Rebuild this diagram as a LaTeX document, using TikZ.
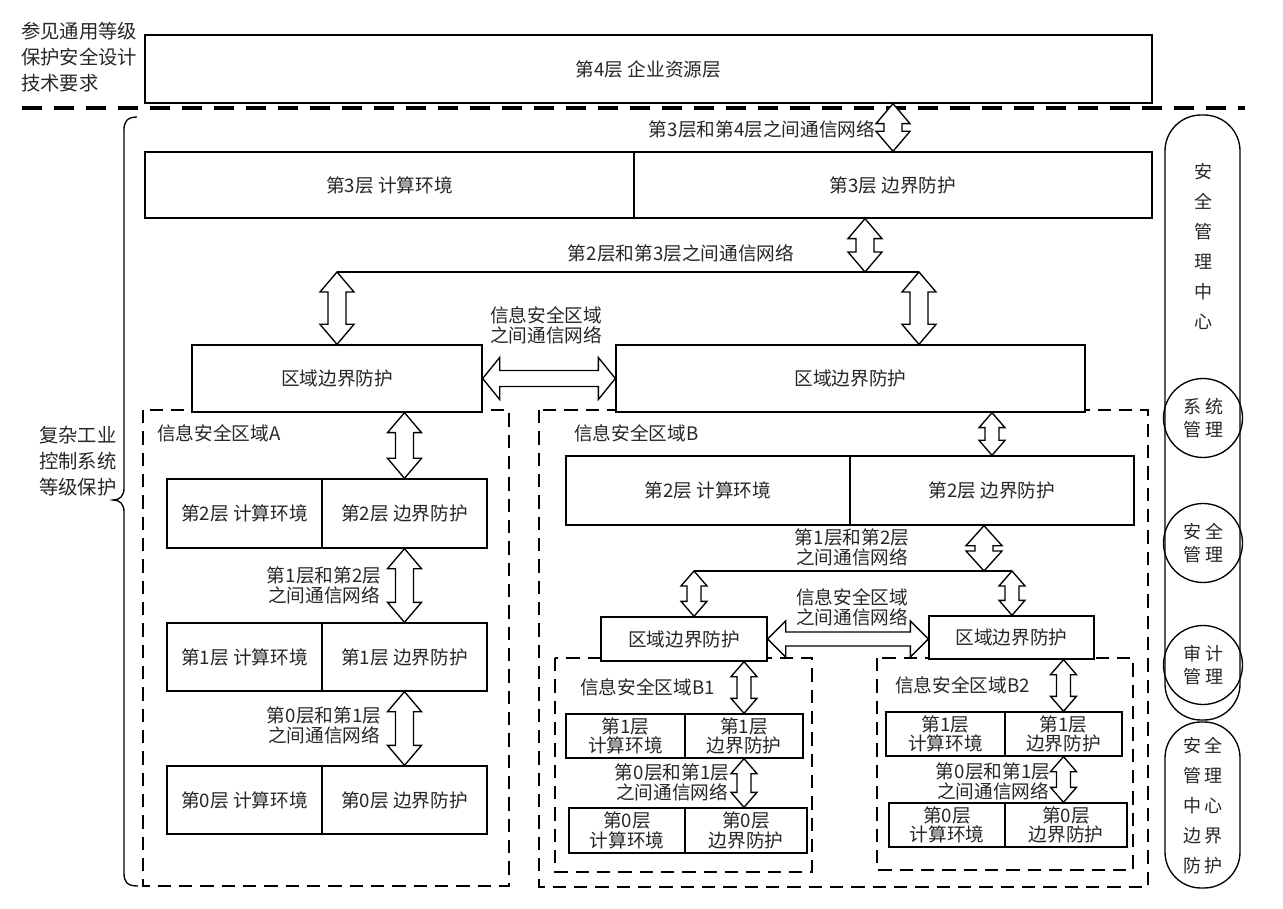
\documentclass[tikz,border=0pt]{standalone}
\usepackage{fontspec}
\setmainfont{Noto Sans CJK SC}
\usetikzlibrary{calc}
% cell node given by its pixel corners
\newcommand\mkcell[7][box]{\node[#1, minimum width={(#5-#3)*0.75pt}, minimum height={(#6-#4)*0.75pt}, align=center] (#2) at ({(#3+#5)/2},{(#4+#6)/2}) {#7};}
% vertical hollow double arrow: half head width, half shaft width, head length (px), top point, bottom point
\newcommand\vdar[5]{\draw[darr] let \p1=#4, \p2=#5 in
 (\x1,\y1) -- ({\x1+#1*0.75pt},{\y1-#3*0.75pt}) -- ({\x1+#2*0.75pt},{\y1-#3*0.75pt}) -- ({\x1+#2*0.75pt},{\y2+#3*0.75pt}) -- ({\x1+#1*0.75pt},{\y2+#3*0.75pt}) -- (\x1,\y2) -- ({\x1-#1*0.75pt},{\y2+#3*0.75pt}) -- ({\x1-#2*0.75pt},{\y2+#3*0.75pt}) -- ({\x1-#2*0.75pt},{\y1-#3*0.75pt}) -- ({\x1-#1*0.75pt},{\y1-#3*0.75pt}) -- cycle;}
% horizontal hollow double arrow: left point, right point
\newcommand\hdar[5]{\draw[darr] let \p1=#4, \p2=#5 in
 (\x1,\y1) -- ({\x1+#3*0.75pt},{\y1+#1*0.75pt}) -- ({\x1+#3*0.75pt},{\y1+#2*0.75pt}) -- ({\x2-#3*0.75pt},{\y1+#2*0.75pt}) -- ({\x2-#3*0.75pt},{\y1+#1*0.75pt}) -- (\x2,\y1) -- ({\x2-#3*0.75pt},{\y1-#1*0.75pt}) -- ({\x2-#3*0.75pt},{\y1-#2*0.75pt}) -- ({\x1+#3*0.75pt},{\y1-#2*0.75pt}) -- ({\x1+#3*0.75pt},{\y1-#1*0.75pt}) -- cycle;}
\begin{document}
\begin{tikzpicture}[x=0.75pt,y=-0.75pt,
  every node/.style={font=\fontsize{14}{15}\selectfont, inner sep=0pt, text=black!85},
  box/.style={draw, line width=1pt, fill=white},
  darr/.style={draw, line width=1pt, fill=white, line join=miter},
  zone/.style={draw, line width=2.1pt, dash pattern=on 10pt off 6pt},
  sepline/.style={draw, line width=3pt, dash pattern=on 15pt off 9pt},
  capsule/.style={draw, line width=1pt, rounded corners=27pt},
  disc/.style={draw, circle, line width=1pt, minimum size={79*0.75pt}, align=center, font=\fontsize{13.5}{17.5}\selectfont},
  lbl/.style={align=center},
  small/.style={box, font=\fontsize{14}{14.5}\selectfont},
]
\useasboundingbox (0,0) rectangle (1283,909);

% ---- top area
\node[align=left, anchor=west, font=\fontsize{14.5}{19.5}\selectfont] (ref) at (21,57) {参见通用等级\\保护安全设计\\技术要求};
\mkcell{l4}{145}{35}{1152}{103}{第4层~企业资源层}
\draw[sepline] (22,108) -- (1245,108);

% ---- brace
\draw[line width=1pt] (137,117) .. controls (127,117) and (124,122) .. (124,130) -- (124,488) .. controls (124,496) and (120,500) .. (113,500) .. controls (120,500) and (124,504) .. (124,512) -- (124,873) .. controls (124,882) and (127,886) .. (138,886);
\node[lbl, font=\fontsize{14.5}{19.5}\selectfont] (cx) at (78,461) {复杂工业\\控制系统\\等级保护};

% ---- layer 3
\mkcell{l3c}{145}{152}{634}{218}{第3层~计算环境}
\mkcell{l3b}{634}{152}{1152}{218}{第3层~边界防护}
\node (t34) at (762,129) {第3层和第4层之间通信网络};
\vdar{17}{9}{20}{(l4.south -| l3b.north)}{(l3b.north)}

\node (t23) at (681,253) {第2层和第3层之间通信网络};
\coordinate (busC) at (865,272);
\coordinate (busL) at (337,272);
\coordinate (busR) at (919,272);
\draw[line width=1pt] (busL) -- (busR);
\vdar{17}{9}{20}{(l3b.south -| busC)}{(busC)}

% ---- zones
\draw[zone] (143,410) rectangle (509,886);
\draw[zone] (539,410) rectangle (1148,887);
\node[anchor=west] (zA) at (157,433) {信息安全区域A};
\node[anchor=west] (zB) at (574,433) {信息安全区域B};

% ---- region boundary boxes
\mkcell{rA}{192}{345}{482}{412}{区域边界防护}
\mkcell{rB}{616}{345}{1085}{412}{区域边界防护}
\vdar{17}{9}{20}{(busL)}{(busL |- rA.north)}
\vdar{17}{9}{20}{(busR)}{(busR |- rB.north)}
\node[lbl] (tAB) at (546,325) {信息安全区域\\之间通信网络};
\hdar{21}{8}{17}{(rA.east)}{(rB.west)}

% ---- zone A
\mkcell{a2c}{167}{479}{322}{548}{第2层~计算环境}
\mkcell{a2b}{322}{479}{487}{548}{第2层~边界防护}
\mkcell{a1c}{167}{623}{322}{691}{第1层~计算环境}
\mkcell{a1b}{322}{623}{487}{691}{第1层~边界防护}
\mkcell{a0c}{167}{766}{322}{834}{第0层~计算环境}
\mkcell{a0b}{322}{766}{487}{834}{第0层~边界防护}
\vdar{17}{9}{20}{(rA.south -| a2b.north)}{(a2b.north)}
\vdar{17}{9}{20}{(a2b.south)}{(a1b.north)}
\vdar{17}{9}{20}{(a1b.south)}{(a0b.north)}
\node[lbl] (tA12) at (324,585) {第1层和第2层\\之间通信网络};
\node[lbl] (tA01) at (324,725) {第0层和第1层\\之间通信网络};

% ---- zone B
\mkcell{b2c}{566}{456}{850}{525}{第2层~计算环境}
\mkcell{b2b}{850}{456}{1134}{525}{第2层~边界防护}
\vdar{13}{7}{15}{(rB.south -| b2b.north)}{(b2b.north)}
\node[lbl] (tB12) at (852,547) {第1层和第2层\\之间通信网络};
\coordinate (bbusC) at (984,571);
\coordinate (bbusL) at (694,571);
\coordinate (bbusR) at (1012,571);
\draw[line width=1pt] (bbusL) -- (bbusR);
\vdar{18}{9}{20}{(b2b.south -| bbusC)}{(bbusC)}

\draw[zone] (555,658) rectangle (812,872);
\draw[zone] (877,658) rectangle (1133,870);
\node[anchor=west] (zB1) at (580,687) {信息安全区域B1};
\node[anchor=west] (zB2) at (895,685) {信息安全区域B2};

\mkcell{bRL}{601}{617}{767}{661}{区域边界防护}
\mkcell{bRR}{929}{616}{1094}{659}{区域边界防护}
\vdar{13}{7}{15}{(bbusL)}{(bbusL |- bRL.north)}
\vdar{13}{7}{15}{(bbusR)}{(bbusR |- bRR.north)}
\node[lbl] (tB1B2) at (852,607) {信息安全区域\\之间通信网络};
\hdar{18}{7}{18}{(bRL.east)}{(bRR.west)}

% ---- zone B1
\mkcell[small]{b11c}{566}{714}{685}{758}{第1层\\计算环境}
\mkcell[small]{b11b}{685}{714}{803}{758}{第1层\\边界防护}
\mkcell[small]{b10c}{569}{808}{685}{853}{第0层\\计算环境}
\mkcell[small]{b10b}{685}{808}{807}{853}{第0层\\边界防护}
\vdar{13}{7}{15}{(bRL.south -| b11b.north)}{(b11b.north)}
\vdar{13}{7}{15}{(b11b.south)}{(b11b.south |- b10b.north)}
\node[lbl] (tB101) at (672,782) {第0层和第1层\\之间通信网络};

% ---- zone B2
\mkcell[small]{b21c}{886}{712}{1005}{756}{第1层\\计算环境}
\mkcell[small]{b21b}{1005}{712}{1122}{756}{第1层\\边界防护}
\mkcell[small]{b20c}{889}{803}{1005}{847}{第0层\\计算环境}
\mkcell[small]{b20b}{1005}{803}{1127}{847}{第0层\\边界防护}
\vdar{13}{7}{15}{(bRR.south -| b21b.north)}{(b21b.north)}
\vdar{13}{7}{15}{(b21b.south)}{(b21b.south |- b20b.north)}
\node[lbl] (tB201) at (993,781) {第0层和第1层\\之间通信网络};

% ---- security management centre
\node[capsule, minimum width={75*0.75pt}, minimum height={605*0.75pt}] (smc) at (1202.5,417.5) {};
\node[lbl, font=\fontsize{13.5}{22.5}\selectfont] (smct) at (1203,246) {安\\全\\管\\理\\中\\心};
\node[disc] (sys) at (1203,418) {系\hspace{3pt}统\\管\hspace{3pt}理};
\node[disc] (sec) at (1203,543) {安\hspace{3pt}全\\管\hspace{3pt}理};
\node[disc] (aud) at (1203,665) {审\hspace{3pt}计\\管\hspace{3pt}理};
\node[capsule, minimum width={75*0.75pt}, minimum height={166*0.75pt}] (smcb) at (1202.5,805) {};
\node[lbl, font=\fontsize{13.5}{22.5}\selectfont] (smcbt) at (1203,806) {安\hspace{2pt}全\\管\hspace{2pt}理\\中\hspace{2pt}心\\边\hspace{2pt}界\\防\hspace{2pt}护};
\end{tikzpicture}
\end{document}
